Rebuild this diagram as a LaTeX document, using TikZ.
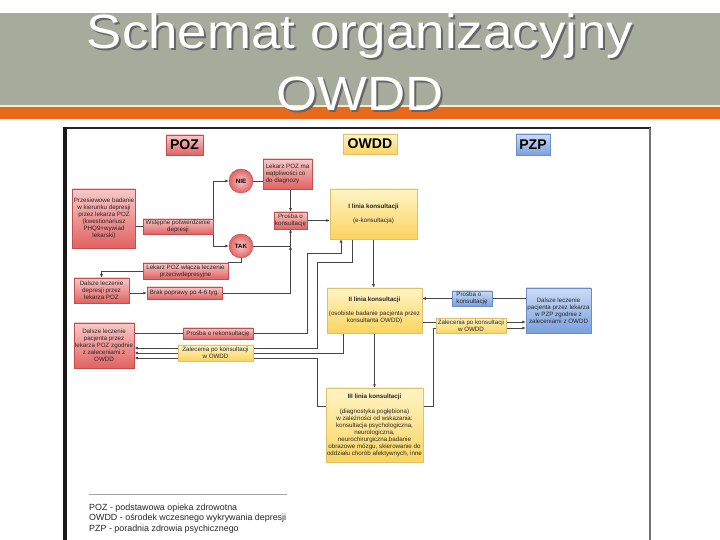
\documentclass[tikz,border=0pt]{standalone}
\usepackage{fontspec}
\setmainfont{Liberation Sans}
\usetikzlibrary{arrows.meta,backgrounds}

\newlength{\unitpx}
\setlength{\unitpx}{0.03cm}

\definecolor{bandgray}{RGB}{167,171,156}
\definecolor{bandorange}{RGB}{232,104,28}
\definecolor{bandcream}{RGB}{246,236,206}
\definecolor{redtop}{RGB}{248,200,200}
\definecolor{redbot}{RGB}{226,98,98}
\definecolor{redline}{RGB}{192,80,80}
\definecolor{yeltop}{RGB}{255,244,196}
\definecolor{yelbot}{RGB}{251,212,96}
\definecolor{yelline}{RGB}{222,192,112}
\definecolor{bluetop}{RGB}{204,220,246}
\definecolor{bluebot}{RGB}{122,160,222}
\definecolor{blueline}{RGB}{108,142,200}
\definecolor{wire}{RGB}{70,70,70}

\begin{document}
\begin{tikzpicture}[
    x=0.03cm, y=-0.03cm,
    boxtext/.style={font=\fontsize{5.3}{6}\selectfont, align=center, inner sep=1pt, text=black!85},
    pozbox/.style={boxtext, draw=redline, top color=redtop, bottom color=redbot},
    owddbox/.style={boxtext, draw=yelline, top color=yeltop, bottom color=yelbot},
    pzpbox/.style={boxtext, draw=blueline, top color=bluetop, bottom color=bluebot},
    header/.style={font=\bfseries\fontsize{12}{14}\selectfont, inner sep=1pt, text=black},
    decision/.style={circle, draw=redline, inner color=redtop, outer color=redbot, minimum size=24\unitpx, inner sep=0pt, font=\bfseries\fontsize{5.3}{6}\selectfont},
    titletext/.style={font=\fontsize{41}{48}\selectfont, anchor=base, inner sep=0pt},
    link/.style={draw=wire, line width=0.6pt},
    arrow/.style={link, -{Latex[length=3pt,width=2.6pt]}}
]

    \useasboundingbox (0,0) rectangle (720,540);

    % Title band
    \fill[bandgray] (0,13) rectangle (720,105);
    \fill[bandcream] (0,105) rectangle (720,107.5);
    \fill[bandorange] (0,107.5) rectangle (720,119);
    \node[titletext, text=black!60] (title1s) at (362,51) {\scalebox{1.1}[1]{Schemat organizacyjny}};
    \node[titletext, text=white] (title1) at (360,49) {\scalebox{1.1}[1]{Schemat organizacyjny}};
    \node[titletext, text=black!60] (title2s) at (362,113) {\scalebox{1.1}[1]{OWDD}};
    \node[titletext, text=white] (title2) at (360,111) {\scalebox{1.1}[1]{OWDD}};

    % Frame of the chart
    \draw[black!85, line width=2pt] (63,128) -- (651,128);
    \draw[black!55, line width=0.9pt] (650,128) -- (650,540);
    \draw[black!90, line width=3.4pt] (65,127) -- (65,540);

    % Column headers
    \node[pozbox, header, minimum width=37\unitpx, minimum height=20\unitpx] (pozhead) at (184.5,145) {POZ};
    \node[owddbox, header, minimum width=54\unitpx, minimum height=20\unitpx] (owddhead) at (370,144) {OWDD};
    \node[pzpbox, header, minimum width=34\unitpx, minimum height=21\unitpx] (pzphead) at (533,144.5) {PZP};

    % POZ column
    \node[pozbox, minimum width=60\unitpx, minimum height=59\unitpx] (screen) at (104,218.5) {Przesiewowe badanie\\w kierunku depresji\\przez lekarza POZ\\(kwestionariusz\\PHQ9+wywiad\\lekarski)};
    \node[pozbox, minimum width=70\unitpx, minimum height=15\unitpx] (confirm) at (178,226.5) {Wstępne potwierdzenie\\depresji};
    \node[decision] (nie) at (241,181) {NIE};
    \node[decision] (tak) at (241,246) {TAK};
    \node[pozbox, align=left, minimum width=49\unitpx, minimum height=30\unitpx] (doubt) at (287.5,174) {Lekarz POZ ma\\wątpliwości co\\do diagnozy};
    \node[pozbox, minimum width=33\unitpx, minimum height=17\unitpx] (askpoz) at (290.5,220.5) {Prośba o\\konsultację};
    \node[pozbox, minimum width=85\unitpx, minimum height=16\unitpx] (treat) at (185.5,271) {Lekarz POZ włącza leczenie\\przeciwdepresyjne};
    \node[pozbox, minimum width=55\unitpx, minimum height=25\unitpx] (contpoz) at (101.5,290.5) {Dalsze leczenie\\depresji przez\\lekarza POZ};
    \node[pozbox, minimum width=75\unitpx, minimum height=12\unitpx] (noimpr) at (184.5,293) {Brak poprawy po 4-6 tyg.};
    \node[pozbox, minimum width=60\unitpx, minimum height=45\unitpx] (followpoz) at (104,345.5) {Dalsze leczenie\\pacjenta przez\\lekarza POZ zgodnie\\z zaleceniami z\\OWDD};
    \node[pozbox, minimum width=70\unitpx, minimum height=11\unitpx] (reask) at (218,333.5) {Prośba o rekonsultację};
    \node[owddbox, minimum width=75\unitpx, minimum height=16\unitpx] (recpoz) at (215.5,353) {Zalecenia po konsultacji\\w OWDD};

    % OWDD column
    \node[owddbox, minimum width=87\unitpx, minimum height=50\unitpx] (line1) at (373.5,214) {\textbf{I linia konsultacji}\\[7\unitpx](e-konsultacja)};
    \node[owddbox, minimum width=95\unitpx, minimum height=45\unitpx] (line2) at (374.5,310.5) {\textbf{II linia konsultacji}\\[7\unitpx](osobiste badanie pacjenta przez\\konsultanta OWDD)};
    \node[owddbox, minimum width=95\unitpx, minimum height=74\unitpx] (line3) at (374.5,425) {\textbf{III linia konsultacji}\\[8\unitpx](diagnostyka pogłębiona)\\w zależności od wskazania:\\konsultacja psychologiczna,\\neurologiczna,\\neurochirurgiczna,badanie\\obrazowe mózgu, skierowanie do\\oddziału chorób afektywnych, inne};

    % PZP column
    \node[pzpbox, align=left, minimum width=40\unitpx, minimum height=15\unitpx] (askpzp) at (472,298.5) {Prośba o\\konsultację};
    \node[owddbox, minimum width=70\unitpx, minimum height=15\unitpx] (recpzp) at (471,325.5) {Zalecenia po konsultacji\\w OWDD};
    \node[pzpbox, minimum width=65\unitpx, minimum height=45\unitpx] (followpzp) at (558.5,310.5) {Dalsze leczenie\\pacjenta przez lekarza\\w PZP zgodnie z\\zaleceniami z OWDD};

    % Bends and entry points
    \coordinate (tj) at (askpoz.south |- tak.east);
    \coordinate (rk) at (307,253);
    \coordinate (l1a) at (341,239);
    \coordinate (l1b) at (352,239);
    \coordinate (bk) at (317,262);
    \coordinate (l2a) at (343,333);
    \coordinate (l3w) at (317,406);
    \coordinate (l3e) at (433,406);
    \coordinate (in1) at ([yshift=-2.5\unitpx]followpoz.east);
    \coordinate (in2) at ([yshift=-7.5\unitpx]followpoz.east);
    \coordinate (in3) at ([yshift=-12.5\unitpx]followpoz.east);
    \coordinate (pz1) at ([yshift=-11.5\unitpx]followpzp.west);
    \coordinate (pz2) at ([yshift=-17.5\unitpx]followpzp.west);

    \begin{scope}[on background layer]
        \fill[white] (0,0) rectangle (720,540);

        % Screening in POZ
        \draw[link] (screen.east |- confirm.west) -- (confirm.west);
        \draw[arrow] (confirm.east) |- (nie.west);
        \draw[arrow] (confirm.east) |- (tak.west);
        \draw[link] (nie.east) -- (doubt.west |- nie.east);
        \draw[arrow] (askpoz.north |- doubt.south) -- (askpoz.north);
        \draw[arrow] (askpoz.east) -- (line1.west |- askpoz.east);
        \draw[arrow] (tak.east) -| (askpoz.south);
        \draw[link] (tak.south) |- (treat.north east);
        \draw[arrow] (treat.west) -| (contpoz.north);
        \draw[arrow] (contpoz.east |- noimpr.west) -- (noimpr.west);
        \draw[arrow] (noimpr.east) -| (tj);

        % Requests and recommendations, POZ side
        \draw[link] (followpoz.east |- reask.west) -- (reask.west);
        \draw[arrow] (reask.east) -| (rk) -| (l1a);
        \draw[arrow] (l1b) |- (bk) |- (in1);
        \draw[arrow] (l2a) |- (in2);
        \draw[arrow] (line3.west |- l3w) -- (l3w) |- (in3);

        % Consultation levels
        \draw[arrow] (line1.south) -- (line1.south |- line2.north);
        \draw[arrow] (line2.south) -- (line3.north);

        % Requests and recommendations, PZP side
        \draw[arrow] (followpzp.west |- askpzp.east) -- (line2.east |- askpzp.east);
        \draw[arrow] (line2.east |- pz1) -- (pz1);
        \draw[arrow] (line3.east |- l3e) -- (l3e) |- (pz2);
    \end{scope}

    % Legend
    \draw[black!35, line width=0.5pt] (89,494) -- (287,494);
    \node[anchor=north west, inner sep=0pt, align=left, font=\fontsize{7.6}{9}\selectfont, text=black!85] (legend) at (89,503.5) {POZ - podstawowa opieka zdrowotna\\OWDD - ośrodek wczesnego wykrywania depresji\\PZP - poradnia zdrowia psychicznego};

\end{tikzpicture}
\end{document}
